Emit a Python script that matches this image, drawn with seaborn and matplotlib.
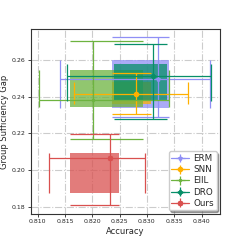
import numpy as np
import matplotlib
matplotlib.use('Agg')
import matplotlib.pyplot as plt
from matplotlib.patches import Rectangle
import seaborn as sns

# methods and their summary numbers
methods = ['ERM', 'SNN', 'EIIL', 'DRO', 'Ours']
colors = ['#8f8ff5', '#ffb000', '#6db33f', '#078f68', '#d9504f']
markers = ['*', 'o', '.', 'P', 'X']

# center point
acc_mean = [0.8321, 0.8280, 0.8201, 0.8311, 0.8232]
gap_mean = [0.2497, 0.2415, 0.2384, 0.2511, 0.2065]

# whiskers (min / max)
acc_lo = [0.8141, 0.8167, 0.8103, 0.8154, 0.8121]
acc_hi = [0.8416, 0.8375, 0.8340, 0.8418, 0.8297]
gap_lo = [0.2290, 0.2306, 0.2170, 0.2280, 0.1807]
gap_hi = [0.2723, 0.2529, 0.2701, 0.2689, 0.2199]

# box extents
box_x0 = [0.8236, 0.8236, 0.8160, 0.8239, 0.8159]
box_x1 = [0.8340, 0.8308, 0.8292, 0.8337, 0.8249]
box_y0 = [0.2339, 0.2362, 0.2344, 0.2375, 0.1876]
box_y1 = [0.2602, 0.2477, 0.2543, 0.2578, 0.2094]

sns.set_style('white')
plt.rcParams['font.family'] = ['DejaVu Sans']

fig = plt.figure(figsize=(2.45, 2.45), dpi=100)
ax = fig.add_axes([0.125, 0.127, 0.773, 0.755])

for i, m in enumerate(methods):
    c = colors[i]
    # box
    ax.add_patch(Rectangle((box_x0[i], box_y0[i]), box_x1[i] - box_x0[i],
                           box_y1[i] - box_y0[i], color=c, alpha=0.75, lw=0, zorder=2))
for i, m in enumerate(methods):
    c = colors[i]
    xerr = [[acc_mean[i] - acc_lo[i]], [acc_hi[i] - acc_mean[i]]]
    yerr = [[gap_mean[i] - gap_lo[i]], [gap_hi[i] - gap_mean[i]]]
    ax.errorbar([acc_mean[i]], [gap_mean[i]], xerr=xerr, yerr=yerr, color=c,
                marker=markers[i], markersize=3, lw=0.9, capsize=0, label=m, zorder=3)
    # long caps as wide as the box
    ax.vlines([acc_lo[i], acc_hi[i]], box_y0[i], box_y1[i], color=c, lw=0.9, zorder=3)
    ax.hlines([gap_lo[i], gap_hi[i]], box_x0[i], box_x1[i], color=c, lw=0.9, zorder=3)

ax.set_xticks(np.arange(0.810, 0.8401, 0.005))
ax.set_yticks([0.18, 0.20, 0.22, 0.24, 0.26])
ax.set_xticklabels(['%.3f' % t for t in np.arange(0.810, 0.8401, 0.005)])
ax.set_yticklabels(['0.18', '0.20', '0.22', '0.24', '0.26'])
ax.tick_params(labelsize=4.5, length=2, width=0.6, pad=2, bottom=True, left=True)
ax.grid(True, linestyle='-.', color='#cccccc', lw=0.8, zorder=0)
ax.set_axisbelow(True)
for s in ax.spines.values():
    s.set_color('#333333')
    s.set_linewidth(0.8)

ax.set_xlabel('Accuracy', fontsize=6, labelpad=2)
ax.set_ylabel('Group Sufficiency Gap', fontsize=6)
ax.yaxis.set_label_coords(-0.115, 0.5)
leg = ax.legend(loc='lower right', fontsize=6.3, shadow={'ox': 1.5, 'oy': -1.5},
                handlelength=2.0, borderpad=0.3, labelspacing=0.25,
                handletextpad=0.5, framealpha=1, borderaxespad=0.4)

fig.savefig('out.png', dpi=100)
